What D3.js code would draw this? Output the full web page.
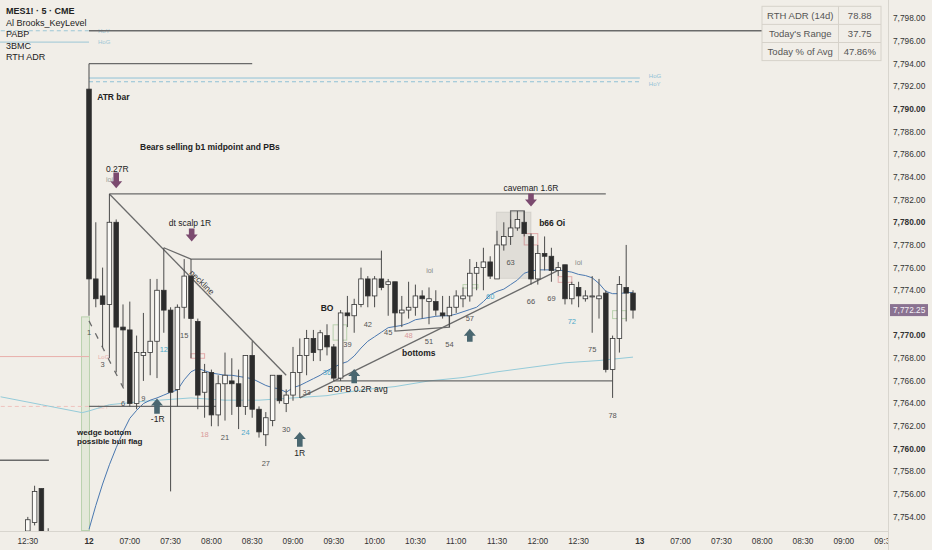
<!DOCTYPE html>
<html>
<head>
<meta charset="utf-8">
<script src="https://cdn.jsdelivr.net/npm/d3@7"></script>
<style>
html,body{margin:0;padding:0;background:#f1eee8;}
svg{display:block;font-family:"Liberation Sans",Arial,sans-serif;}
</style>
</head>
<body>
<div id="chart"></div>
<script>
// MES1! 5 min, session of the 12th, bar 0 = 06:30
var opens  = [7791.75,7775,7773.5,7772.75,7780,7770.75,7770.5,7764,7768.25,7768.5,7769.5,7774,7772.25,7765.25,7772.5,7775.25,7771.25,7765,7766.75,7763,
              7765.75,7766,7765.75,7763.75,7768.25,7763.5,7761.25,7762.5,7766.5,7764,7764.75,7766.75,7768.25,7769.75,7768.75,7770,7769,7766.25,7772,7771.75,
              7772.75,7775,7773.5,7775,7774.5,7774.75,7772,7772.25,7772.5,7773.5,7773,7773,7772,7771.75,7772.5,7773.25,7773.5,7775.5,7776,7776.5,
              7775,7778,7778.75,7779.5,7780,7778.75,7775,7777.25,7777,7775.75,7776.25,7773.25,7774.25,7773.25,7773.5,7773.25,7773.75,7767,7769.75,7774.25,7773.75];
var highs  = [7794,7780,7776,7782.5,7780.25,7772.75,7773,7770,7772,7775,7775,7777.75,7772.5,7772.75,7776.75,7776.75,7771.5,7767.5,7767,7766.5,
              7768.5,7768,7767,7768.25,7769.5,7763.75,7763.25,7766.5,7766.5,7765.25,7769,7769.75,7770.5,7770.5,7770.5,7771,7769.25,7772.25,7773.5,7773.25,
              7776,7775.25,7775.25,7777.5,7775,7774.75,7773.5,7774.75,7774.5,7774,7774.25,7774,7773.5,7773.5,7774,7774.25,7776.75,7776.5,7777.75,7777,
              7779.25,7780,7780.25,7781,7781,7779,7778,7778.75,7777.75,7776.5,7776.25,7774.75,7774.75,7774,7775.25,7775,7774,7770,7775.25,7778,7774];
var lows   = [7771.75,7772.5,7769,7768,7766.75,7765.5,7763.75,7763.5,7766,7766.5,7766.25,7770.25,7756.25,7763.75,7771.5,7768,7763.5,7762.75,7762,7762,
              7762.5,7763,7761.75,7763,7762.75,7761,7760.25,7762,7764,7763.25,7764.25,7764.5,7766.5,7767.75,7767.75,7768.25,7766,7766,7770.75,7770.25,
              7772.5,7772.5,7772.5,7774,7771.75,7770.75,7770.75,7771.5,7771.75,7771.5,7771,7771.75,7771.5,7770.75,7772,7772.5,7773,7774,7774,7775,
              7775,7777.5,7778,7779.25,7778.75,7774.5,7774.5,7775.75,7774.75,7775.25,7772.75,7772.75,7772.5,7773,7770.25,7771.5,7766.75,7764.5,7768.5,7771.25,7771.5];
var closes = [7775,7773.25,7772.75,7780,7770.75,7770.5,7764,7768.5,7768.5,7769.5,7774,7772.25,7765,7772.5,7775.25,7771.5,7764.75,7766.75,7763,7765.75,
              7766.5,7765.75,7763.75,7768.25,7763.5,7761.5,7762.75,7766.5,7764.25,7764.75,7766.75,7768.25,7769.75,7768.5,7770.25,7769,7766.25,7772,7771.75,7772.75,
              7775,7773.5,7775,7774.25,7774.75,7772,7772.25,7772.5,7773.5,7773.25,7773.25,7772.25,7771.75,7772.5,7773.5,7773.5,7775.5,7776,7776.5,7775.25,
              7778,7778.75,7779.5,7780.25,7779,7775,7777.25,7777,7775.75,7776,7773.25,7774.5,7773.5,7773.5,7773.5,7773.5,7767,7769.75,7774.5,7773.75,7772.25];

// tail of the previous session
var prevIdx   = [-9,-8,-7,-6];
var prevOpen  = [7752.75,7753.5,7756.5,7752.5];
var prevHigh  = [7754,7756.75,7756.5,7753];
var prevLow   = [7752.5,7753.25,7752,7751.5];
var prevClose = [7753.75,7756.25,7752.5,7752.25];

// fast EMA (dark blue), one value per bar
var emaFast = [7752.9,7755,7756.9,7758.6,7760.1,7761.5,7762.7,7763.4,7764,7764.3,7764.5,7764.75,7765,7765.2,7766.1,7766.8,7767.1,7766.9,7766.7,7766.6,
               7766.5,7766.5,7766.4,7766.3,7766.2,7765.9,7765.6,7765.4,7765.3,7765,7765.4,7765.6,7765.9,7766.2,7766.5,7766.9,7767.2,7767.5,7767.7,7768.2,
               7768.9,7769.5,7769.9,7770.3,7770.7,7770.8,7770.9,7771.1,7771.4,7771.5,7771.6,7771.7,7771.75,7771.75,7771.9,7772.1,7772.3,7772.5,7773,7773.6,
               7773.9,7774.1,7774.5,7774.9,7775.5,7775.7,7775.8,7775.8,7775.8,7775.8,7775.7,7775.6,7775.4,7775.3,7775.1,7774.6,7773.9,7773.7,7773.7,7773.8,7773.8];
// slow MA (light teal), read at a few bars
var maSlowIdx = [-13,-7,-1,0,3,8,15,20,25,30,35,40,45,50,55,60,65,70,75,80];
var maSlowVal = [7764.6,7763.9,7763.2,7763.35,7763.9,7764.2,7764.5,7764.3,7764.3,7764.5,7764.7,7765.2,7765.5,7766,7766.3,7766.8,7767.2,7767.6,7767.8,7768.1];

// bar count labels
var countNums = [1,3,6,9,12,15,18,21,24,27,30,33,36,39,42,45,48,51,54,57,60,63,66,69,72,75,78];
var countTone = ['n','n','n','n','t','n','p','n','t','n','n','n','t','n','n','n','p','n','n','n','t','n','n','n','t','n','n'];

// axis ticks
var timeIdx  = [-9,0,6,12,18,24,30,36,42,48,54,60,66,72,81,87,93,99,105,111,117];
var timeText = ["12:30","12","07:00","07:30","08:00","08:30","09:00","09:30","10:00","10:30","11:00","11:30","12:00","12:30","13","07:00","07:30","08:00","08:30","09:00","09:30"];
var priceTicks = d3.range(7754, 7799, 2);
var lastPrice = 7772.25;

// ADR table
var adrNames  = ["RTH ADR (14d)","Today's Range","Today % of Avg"];
var adrValues = ["78.88","37.75","47.86%"];

// drawn arrows
var downArrowIdx = [4,15.1,65], downArrowTop = [7784.4,7779.45,7782.55], downArrowBot = [7783,7778.3,7781.4];
var upArrowIdx = [10,31,39,56], upArrowTop = [7764.45,7761.5,7767.05,7770.6], upArrowBot = [7763.1,7760.2,7765.8,7769.45];

var W = 932, H = 550, plotR = 888, plotB = 531;

var svg = d3.select("#chart").append("svg").attr("width", W).attr("height", H);
svg.append("rect").attr("width", W).attr("height", H).attr("fill", "#f1eee8");

var x = d3.scaleLinear().domain([0, 81]).range([89, 639.8]);
var y = d3.scaleLinear().domain([7754, 7798]).range([516.9, 18.3]);

svg.append("clipPath").attr("id", "plotClip").append("rect").attr("x", 0).attr("y", 0).attr("width", plotR).attr("height", plotB);
svg.append("clipPath").attr("id", "xClip").append("rect").attr("x", 0).attr("y", plotB).attr("width", plotR).attr("height", H - plotB);

var plot = svg.append("g").attr("clip-path", "url(#plotClip)");

//3BMC boxes
var boxes = [
  {i0:-1.1, i1:0.07, p0:7771.65, p1:7752.8, c:"#b9d1ae", f:"rgba(200,220,190,0.35)"},
  {i0:35.9, i1:37.9, p0:7770.95, p1:7769.6, c:"#b9d1ae", f:"none"},
  {i0:55, i1:57.2, p0:7774.5, p1:7774.2, c:"#b9d1ae", f:"none"},
  {i0:77, i1:79, p0:7772.2, p1:7771.5, c:"#b9d1ae", f:"none"},
  {i0:15, i1:17, p0:7768.4, p1:7768, c:"#e2aaaa", f:"none"},
  {i0:64, i1:66, p0:7779, p1:7778, c:"#e2aaaa", f:"none"},
  {i0:69, i1:71, p0:7775.2, p1:7774.7, c:"#e2aaaa", f:"none"},
  {i0:59.9, i1:65, p0:7780.9, p1:7775.05, c:"rgba(0,0,0,0.08)", f:"rgba(0,0,0,0.07)"}
];
plot.selectAll(".box").data(boxes).enter().append("rect")
  .attr("x", function(d){return x(d.i0);}).attr("y", function(d){return y(d.p0);})
  .attr("width", function(d){return x(d.i1) - x(d.i0);}).attr("height", function(d){return y(d.p1) - y(d.p0);})
  .attr("fill", function(d){return d.f;}).attr("stroke", function(d){return d.c;}).attr("stroke-width", 1);

//key levels
var levels = [
  {i0:-14, i1:0, p:7796.9, c:"#9cc7d6", dash:"4,3", t:"HoY", o:0},
  {i0:-14, i1:0, p:7795.9, c:"#9cc7d6", dash:null, t:"HoG", o:0},
  {i0:-14, i1:0, p:7768.15, c:"#e8b0ac", dash:null, t:"LoG", o:0},
  {i0:-14, i1:0, p:7763.75, c:"#efc2be", dash:"4,3", t:"LoY", o:0},
  {i0:0, i1:81, p:7792.73, c:"#8fc1d6", dash:null, t:"HoG", o:-2.5},
  {i0:0, i1:81, p:7792.4, c:"#8fc1d6", dash:"4,3", t:"HoY", o:2.5}
];
plot.selectAll(".lvl").data(levels).enter().append("line")
  .attr("x1", function(d){return x(d.i0);}).attr("x2", function(d){return x(d.i1);})
  .attr("y1", function(d){return y(d.p);}).attr("y2", function(d){return y(d.p);})
  .attr("stroke", function(d){return d.c;}).attr("stroke-width", 1)
  .attr("stroke-dasharray", function(d){return d.dash;});
plot.selectAll(".lvlText").data(levels).enter().append("text").text(function(d){return d.t;})
  .attr("x", function(d){return x(d.i1) + 9;}).attr("y", function(d){return y(d.p) + d.o;}).attr("dy", ".35em")
  .attr("font-size", 6).attr("fill", function(d){return d.c;});

//moving averages
var lineGen = d3.line().x(function(d){return x(d[0]);}).y(function(d){return y(d[1]);});
plot.append("path").datum(maSlowIdx.map(function(d, i){return [d, maSlowVal[i]];}))
  .attr("d", lineGen).attr("fill", "none").attr("stroke", "#95cbd9").attr("stroke-width", 1);
plot.append("path").datum(emaFast.map(function(d, i){return [i, d];}))
  .attr("d", lineGen).attr("fill", "none").attr("stroke", "#4a78b0").attr("stroke-width", 1);

//drawn lines
var drawn = [
  {pts:[[0,7796.9],[99,7796.9]], dash:null},
  {pts:[[0,7794],[24,7794]], dash:null},
  {pts:[[3,7782.5],[76,7782.5]], dash:null},
  {pts:[[3,7782.5],[29,7766.5]], dash:null},
  {pts:[[11,7777.75],[15,7776.75],[43,7776.75]], dash:null},
  {pts:[[0,7763.75],[19,7763.75]], dash:null},
  {pts:[[36,7766],[77,7766]], dash:null},
  {pts:[[31,7764.5],[69,7775.75]], dash:null},
  {pts:[[45,7772],[45,7770.4],[53,7770.75],[53,7771.75]], dash:null},
  {pts:[[62,7779.5],[62,7781],[64,7781],[64,7780]], dash:null},
  {pts:[[0,7771.3],[5.2,7765.2]], dash:"6,8"},
  {pts:[[-13.1,7759],[-5.9,7759]], dash:null}
];
plot.selectAll(".drawn").data(drawn).enter().append("path")
  .attr("d", function(d){return lineGen(d.pts);}).attr("fill", "none")
  .attr("stroke", "#6a6a6a").attr("stroke-width", 1.3)
  .attr("stroke-dasharray", function(d){return d.dash;});

//candles
var bars = opens.map(function(o, i){return {i:i, o:o, h:highs[i], l:lows[i], c:closes[i]};});
prevIdx.forEach(function(d, k){bars.push({i:d, o:prevOpen[k], h:prevHigh[k], l:prevLow[k], c:prevClose[k]});});
var bw = 4.6;
plot.selectAll(".wick").data(bars).enter().append("line")
  .attr("x1", function(d){return x(d.i);}).attr("x2", function(d){return x(d.i);})
  .attr("y1", function(d){return y(d.h);}).attr("y2", function(d){return y(d.l);})
  .attr("stroke", "#4a4a4a").attr("stroke-width", 1);
plot.selectAll(".body").data(bars).enter().append("rect")
  .attr("x", function(d){return x(d.i) - bw/2;}).attr("width", bw)
  .attr("y", function(d){return y(Math.max(d.o, d.c));})
  .attr("height", function(d){return Math.max(1, Math.abs(y(d.o) - y(d.c)));})
  .attr("fill", function(d){return d.c >= d.o ? "#fbfaf7" : "#2c2c2c";})
  .attr("stroke", "#333").attr("stroke-width", 0.8);

//bar count labels
var toneColor = {n:"#555", t:"#4fa8c8", p:"#d99a9a"};
plot.selectAll(".cnt").data(countNums).enter().append("text").text(function(d){return d;})
  .attr("x", function(d){return x(d - 1);}).attr("y", function(d){return y(lows[d - 1]) + 17;})
  .attr("dy", ".35em").attr("text-anchor", "middle").attr("font-size", 7.5)
  .attr("fill", function(d, i){return toneColor[countTone[i]];});

//arrows
function arrowPath(cx, tip, tail, dir){
  var hw = 6, sw = 2.8, hh = 7 * dir, base = tip + hh;
  return "M" + cx + "," + tip + "L" + (cx + hw) + "," + base + "L" + (cx + sw) + "," + base +
         "L" + (cx + sw) + "," + tail + "L" + (cx - sw) + "," + tail + "L" + (cx - sw) + "," + base +
         "L" + (cx - hw) + "," + base + "Z";
}
plot.selectAll(".dn").data(downArrowIdx).enter().append("path")
  .attr("d", function(d, i){return arrowPath(x(d), y(downArrowBot[i]), y(downArrowTop[i]), -1);})
  .attr("fill", "#7b4a6f");
plot.selectAll(".up").data(upArrowIdx).enter().append("path")
  .attr("d", function(d, i){return arrowPath(x(d), y(upArrowTop[i]), y(upArrowBot[i]), 1);})
  .attr("fill", "#4a6770");

//notes
var notes = [
  {t:"ATR bar", i:1.2, p:7790.8, b:true, a:"start"},
  {t:"Bears selling b1 midpoint and PBs", i:7.5, p:7786.4, b:true, a:"start"},
  {t:"0.27R", i:2.5, p:7784.4, b:false, a:"start"},
  {t:"ioi", i:2.5, p:7783.55, b:false, a:"start", c:"#999", s:7},
  {t:"dt scalp 1R", i:14.85, p:7779.7, b:false, a:"middle"},
  {t:"caveman 1.6R", i:65, p:7782.8, b:false, a:"middle"},
  {t:"b66 Oi", i:66.2, p:7779.7, b:true, a:"start"},
  {t:"ioi", i:72, p:7776.2, b:false, a:"middle", c:"#888", s:7},
  {t:"ioi", i:50.1, p:7775.5, b:false, a:"middle", c:"#888", s:7},
  {t:"BO", i:35, p:7772.2, b:true, a:"middle"},
  {t:"bottoms", i:48.5, p:7768.2, b:true, a:"middle"},
  {t:"BOPB 0.2R avg", i:35.1, p:7765, b:false, a:"start"},
  {t:"wedge bottom", i:-1.75, p:7761.25, b:true, a:"start", s:8},
  {t:"possible bull flag", i:-1.75, p:7760.45, b:true, a:"start", s:8},
  {t:"-1R", i:10.1, p:7762.4, b:false, a:"middle"},
  {t:"1R", i:31, p:7759.4, b:false, a:"middle"}
];
plot.selectAll(".note").data(notes).enter().append("text").text(function(d){return d.t;})
  .attr("x", function(d){return x(d.i);}).attr("y", function(d){return y(d.p);})
  .attr("text-anchor", function(d){return d.a;})
  .attr("font-size", function(d){return d.s || 8.5;})
  .attr("font-weight", function(d){return d.b ? "bold" : "normal";})
  .attr("fill", function(d){return d.c || "#222";});
plot.append("text").text("neckline")
  .attr("transform", "translate(" + x(16.6) + "," + y(7774.7) + ") rotate(45)")
  .attr("text-anchor", "middle").attr("dy", ".35em").attr("font-size", 8.5).attr("fill", "#333");

//axes
svg.append("line").attr("x1", plotR + 0.5).attr("x2", plotR + 0.5).attr("y1", 0).attr("y2", H).attr("stroke", "#d8d5ce");
svg.append("line").attr("x1", 0).attr("x2", plotR).attr("y1", plotB + 0.5).attr("y2", plotB + 0.5).attr("stroke", "#d8d5ce");

svg.selectAll(".ptick").data(priceTicks.filter(function(d){return Math.abs(d - lastPrice) > 1;})).enter().append("text")
  .text(function(d){return d3.format(",.2f")(d);})
  .attr("x", 893).attr("y", function(d){return y(d);}).attr("dy", ".35em")
  .attr("font-size", 8.3).attr("fill", "#333")
  .attr("font-weight", function(d){return d % 10 === 0 ? "bold" : "normal";});

svg.append("rect").attr("x", 890).attr("y", y(lastPrice) - 6).attr("width", 38).attr("height", 12).attr("fill", "#8a7291");
svg.append("text").text(d3.format(",.2f")(lastPrice)).attr("x", 893).attr("y", y(lastPrice)).attr("dy", ".35em")
  .attr("font-size", 8.3).attr("fill", "#f4f0f6");

svg.append("g").attr("clip-path", "url(#xClip)").selectAll(".ttick").data(timeIdx).enter().append("text")
  .text(function(d, i){return timeText[i];})
  .attr("x", function(d){return x(d);}).attr("y", 541).attr("dy", ".35em").attr("text-anchor", "middle")
  .attr("font-size", 8.3).attr("fill", "#333")
  .attr("font-weight", function(d, i){return timeText[i].length === 2 ? "bold" : "normal";});

//legend
var legend = ["MES1! · 5 · CME", "Al Brooks_KeyLevel", "PABP", "3BMC", "RTH ADR"];
svg.selectAll(".leg").data(legend).enter().append("text").text(function(d){return d;})
  .attr("x", 6).attr("y", function(d, i){return 11 + i * 11.5;}).attr("dy", ".35em")
  .attr("font-size", 9).attr("fill", "#222")
  .attr("font-weight", function(d, i){return i === 0 ? "bold" : "normal";});

//ADR table
var tX = 762, tY = 6.3, rowH = 18.1, c1 = 76.5, c2 = 42.5;
var tbl = svg.append("g");
tbl.append("rect").attr("x", tX).attr("y", tY).attr("width", c1 + c2).attr("height", rowH * 3)
  .attr("fill", "#f1eee8").attr("stroke", "#d6d2ca");
tbl.selectAll(".hl").data([1, 2]).enter().append("line")
  .attr("x1", tX).attr("x2", tX + c1 + c2).attr("y1", function(d){return tY + d * rowH;}).attr("y2", function(d){return tY + d * rowH;})
  .attr("stroke", "#d6d2ca");
tbl.append("line").attr("x1", tX + c1).attr("x2", tX + c1).attr("y1", tY).attr("y2", tY + rowH * 3).attr("stroke", "#d6d2ca");
tbl.selectAll(".n").data(adrNames).enter().append("text").text(function(d){return d;})
  .attr("x", tX + c1 / 2).attr("y", function(d, i){return tY + rowH * i + rowH / 2;}).attr("dy", ".35em")
  .attr("text-anchor", "middle").attr("font-size", 9.5).attr("fill", "#555");
tbl.selectAll(".v").data(adrValues).enter().append("text").text(function(d){return d;})
  .attr("x", tX + c1 + c2 / 2).attr("y", function(d, i){return tY + rowH * i + rowH / 2;}).attr("dy", ".35em")
  .attr("text-anchor", "middle").attr("font-size", 9.5).attr("fill", "#555");
</script>
</body>
</html>
